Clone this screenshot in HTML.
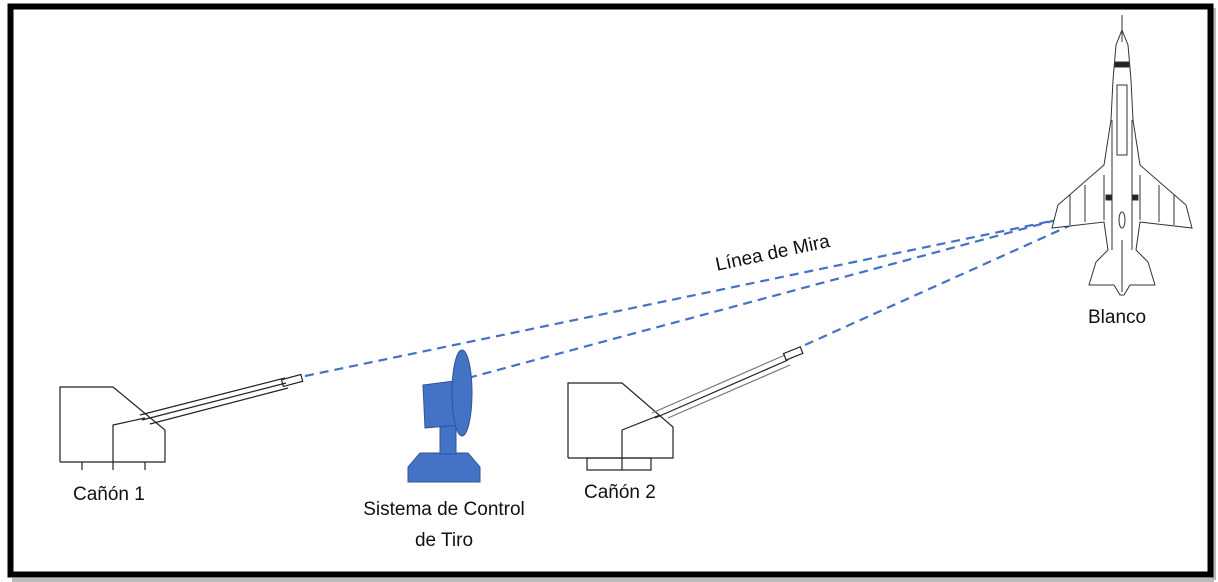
<!DOCTYPE html>
<html><head><meta charset="utf-8"><style>
html,body{margin:0;padding:0;background:#fff;}
body{width:1218px;height:582px;position:relative;overflow:hidden;font-family:"Liberation Sans",sans-serif;}
.t{position:absolute;font-size:19px;color:#111;white-space:nowrap;line-height:22px;}
</style></head><body>
<svg width="1218" height="582" style="position:absolute;left:0;top:0">
<rect x="12" y="578" width="1202" height="4" fill="#bbb"/>
<rect x="1212" y="8" width="4" height="572" fill="#bbb"/>
<rect x="10.5" y="6.5" width="1200" height="568" fill="none" stroke="#000" stroke-width="6"/>
<g stroke="#4472c4" stroke-width="2.2" stroke-dasharray="9,6" fill="none">
<line x1="305" y1="376" x2="1095" y2="212"/>
<line x1="468" y1="378" x2="1112" y2="205"/>
<line x1="805" y1="345" x2="1100" y2="212"/>
</g>
<g stroke="#222" stroke-width="1.2" fill="none">
<polyline points="60,462 60,387 113,387 165,430 165,462 60,462"/>
<polyline points="113,470 113,425 145,418"/>
<line x1="82" y1="462" x2="82" y2="470"/><line x1="145" y1="462" x2="145" y2="470"/>
<line x1="140" y1="415" x2="285" y2="378"/><line x1="142" y1="420" x2="286" y2="383"/><line x1="150" y1="424" x2="288" y2="388"/>
<rect x="282" y="377" width="20" height="7" transform="rotate(-15 292 380)"/>
<polyline points="568,458 568,383 622,383 673,427 673,458 568,458"/>
<rect x="587" y="458" width="64" height="12"/>
<polyline points="622,470 622,430 660,415"/>
<line x1="652" y1="413" x2="785" y2="355" stroke="#777"/><line x1="655" y1="418" x2="788" y2="360"/><line x1="668" y1="418" x2="790" y2="365" stroke="#777"/>
<rect x="784" y="350" width="18" height="7" transform="rotate(-22 793 353)"/>
</g>
<g fill="#4472c4" stroke="#2f5597" stroke-width="1">
<polygon points="408,482 480,482 480,467 468,453 420,453 408,467"/>
<rect x="440" y="423" width="16" height="31"/>
<polygon points="423,385 462,380 462,425 425,428"/>
<ellipse cx="462" cy="393" rx="10" ry="43"/>
</g>
<g stroke="#333" stroke-width="1" fill="#fff">
<polygon points="1122,30 1128,45 1131,80 1133,120 1140,165 1186,205 1192,228 1140,222 1136,250 1148,262 1155,285 1130,285 1124,295 1120,295 1114,285 1089,285 1096,262 1108,250 1104,222 1052,228 1058,205 1104,165 1111,120 1113,80 1116,45"/>
<line x1="1122" y1="15" x2="1122" y2="42"/>
<rect x="1115" y="62" width="14" height="5" fill="#222"/>
<rect x="1117" y="85" width="10" height="70"/>
<line x1="1112" y1="120" x2="1112" y2="250"/><line x1="1132" y1="120" x2="1132" y2="250"/>
<line x1="1104" y1="175" x2="1104" y2="220"/><line x1="1140" y1="175" x2="1140" y2="220"/>
<line x1="1085" y1="185" x2="1085" y2="222"/><line x1="1159" y1="185" x2="1159" y2="222"/>
<line x1="1070" y1="195" x2="1070" y2="225"/><line x1="1174" y1="195" x2="1174" y2="225"/>
<rect x="1106" y="195" width="6" height="5" fill="#222"/><rect x="1132" y="195" width="6" height="5" fill="#222"/>
<ellipse cx="1122" cy="220" rx="3" ry="8"/>
<line x1="1122" y1="240" x2="1122" y2="292"/>
</g>
</svg>
<div class="t" style="left:73px;top:484px">Cañón 1</div>
<div class="t" style="left:344px;top:494px;width:200px;text-align:center;line-height:31px">Sistema de Control<br>de Tiro</div>
<div class="t" style="left:584px;top:482px">Cañón 2</div>
<div class="t" style="left:1088px;top:307px">Blanco</div>
<div class="t" style="left:716px;top:255px;transform:rotate(-12deg);transform-origin:left center">Línea de Mira</div>
</body></html>
